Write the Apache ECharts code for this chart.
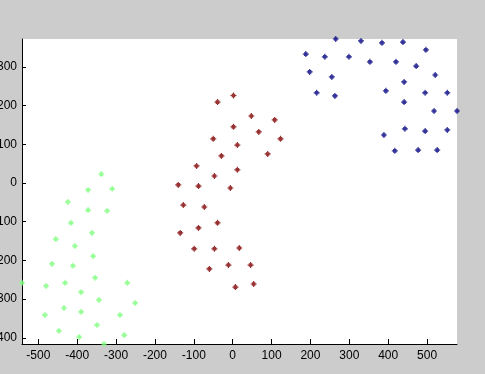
<!DOCTYPE html>
<html>
<head>
<meta charset="utf-8">
<script src="https://cdn.jsdelivr.net/npm/echarts@6/dist/echarts.min.js"></script>
<style>
html,body{margin:0;padding:0;background:#cccccc;}
#c{width:485px;height:374px;}
</style>
</head>
<body>
<div id="c"></div>
<script>
var xTicks = [-500, -400, -300, -200, -100, 0, 100, 200, 300, 400, 500];
var yTicks = [-400, -300, -200, -100, 0, 100, 200, 300];

var greenPts = [
  [-338, 23], [-372, -18], [-310, -15], [-424, -49], [-372, -70], [-323, -72],
  [-416, -103], [-362, -129], [-455, -145], [-406, -163], [-359, -189], [-465, -209],
  [-411, -214], [-354, -245], [-542, -258], [-480, -266], [-431, -258], [-271, -258],
  [-390, -282], [-344, -302], [-251, -310], [-434, -323], [-390, -333], [-483, -341],
  [-290, -341], [-349, -367], [-447, -382], [-279, -393], [-395, -398], [-331, -416]
];
var redPts = [
  [2, 226], [-39, 209], [48, 173], [108, 163], [2, 145], [67, 132],
  [-50, 114], [12, 98], [123, 114], [-29, 70], [90, 75], [-93, 44],
  [12, 34], [-47, 18], [-140, -5], [-88, -8], [-6, -13], [-127, -57],
  [-73, -62], [-39, -103], [-88, -116], [-135, -129], [-99, -170], [-47, -170],
  [17, -168], [-11, -212], [46, -212], [-60, -222], [7, -269], [54, -261]
];
var bluePts = [
  [265, 372], [330, 367], [384, 362], [438, 364], [497, 344], [188, 333],
  [237, 326], [299, 326], [353, 313], [420, 313], [472, 302], [198, 287],
  [255, 274], [521, 279], [441, 261], [216, 233], [263, 225], [394, 238],
  [495, 233], [552, 233], [441, 209], [518, 186], [577, 186], [443, 140],
  [389, 124], [495, 134], [552, 137], [417, 83], [477, 85], [526, 85]
];

var marker = 'path://M2,0L3,0L3,1L4,1L4,2L5,2L5,3L4,3L4,4L3,4L3,5L2,5L2,4L1,4L1,3L0,3L0,2L1,2L1,1L2,1Z';

function ser(data, color) {
  return {
    type: 'scatter', data: data, symbol: marker, symbolSize: 6,
    itemStyle: { color: color }, silent: true, animation: false
  };
}

var chart = echarts.init(document.getElementById('c'), null, { renderer: 'canvas' });
var labelStyle = { color: '#000', fontFamily: 'Liberation Sans, Arial, sans-serif', fontSize: 12 };
chart.setOption({
  backgroundColor: '#cccccc',
  animation: false,
  grid: { left: 22, right: 28, top: 39, bottom: 30, show: true, backgroundColor: '#ffffff', borderWidth: 0, containLabel: false, outerBoundsMode: 'none' },
  xAxis: {
    type: 'value', min: -542, max: 577,
    axisLine: { show: true, onZero: false, lineStyle: { color: '#000', width: 1 } },
    splitLine: { show: false },
    axisTick: { show: true, inside: true, length: 5, lineStyle: { color: '#000', width: 1 }, customValues: xTicks },
    axisLabel: Object.assign({}, labelStyle, { margin: 6, customValues: xTicks })
  },
  yAxis: {
    type: 'value', min: -416, max: 372,
    axisLine: { show: true, onZero: false, lineStyle: { color: '#000', width: 1 } },
    splitLine: { show: false },
    axisTick: { show: true, inside: true, length: 4, lineStyle: { color: '#000', width: 1 }, customValues: yTicks },
    axisLabel: Object.assign({}, labelStyle, { margin: 5, customValues: yTicks })
  },
  series: [ser(greenPts, '#80ff80'), ser(redPts, '#800000'), ser(bluePts, '#000080')]
});
</script>
</body>
</html>
